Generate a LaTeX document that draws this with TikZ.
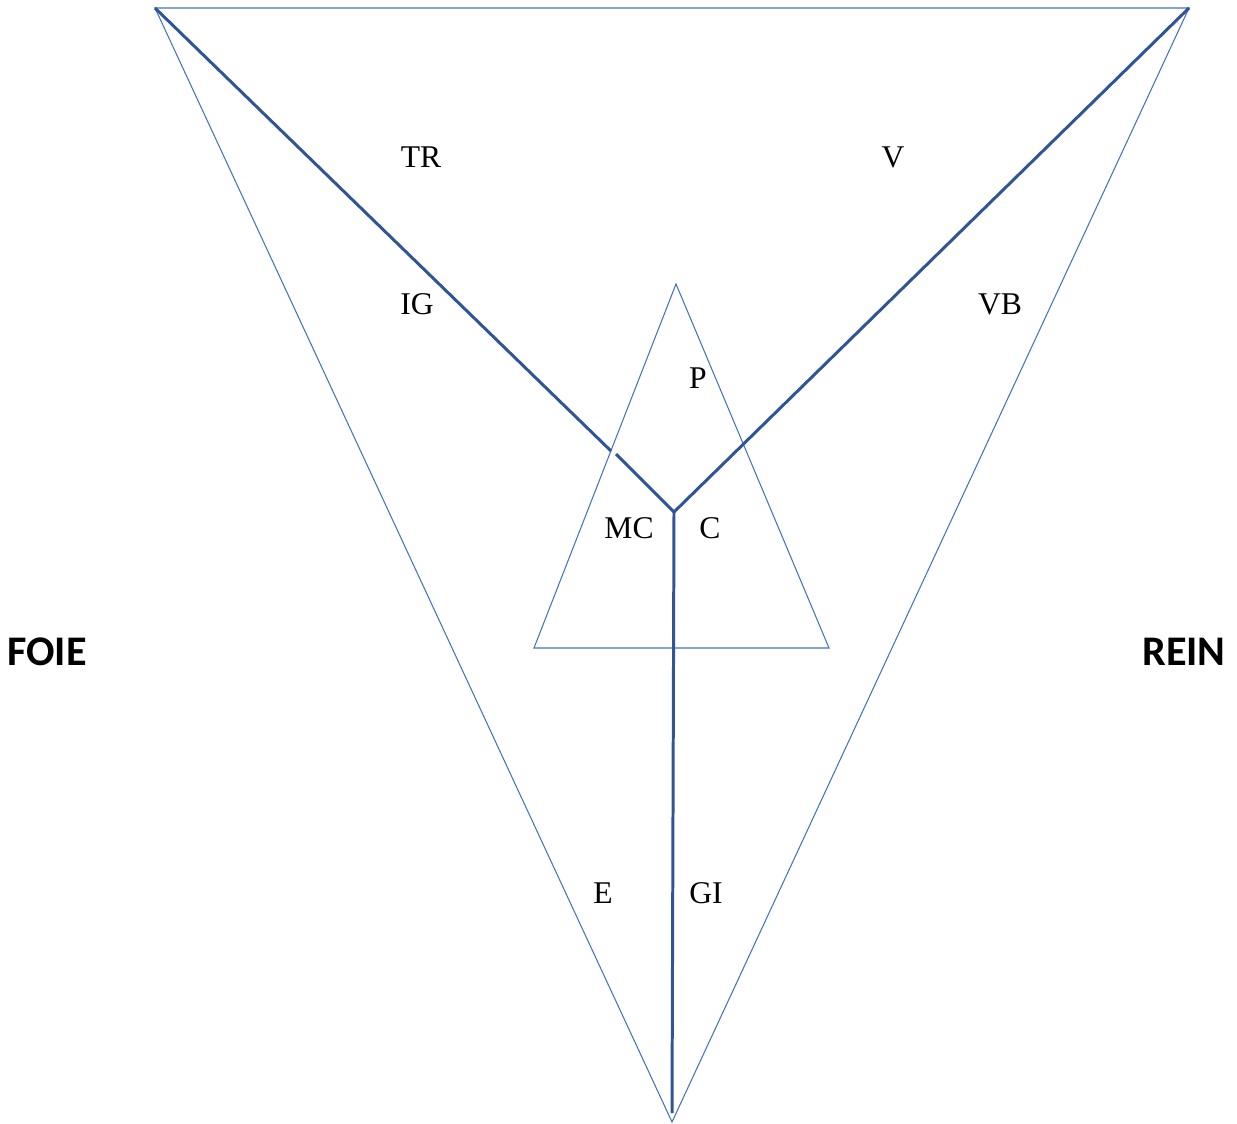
\documentclass[tikz,border=0pt]{standalone}
\usepackage{fontspec}
\setmainfont{Liberation Serif}
\newfontfamily\labelsans{Carlito}
\definecolor{thinblue}{HTML}{4472C4}
\definecolor{thickblue}{HTML}{2F5597}
\begin{document}
\begin{tikzpicture}[
  x=0.02cm, y=-0.02cm,
  thinline/.style={draw=thinblue, line width=0.6pt},
  axisline/.style={draw=thickblue, line width=1.7pt},
  zone/.style={font=\fontsize{18}{20}\selectfont, inner sep=0pt},
  organ/.style={font=\labelsans\bfseries\fontsize{24}{26}\selectfont, inner sep=0pt}
]
  \useasboundingbox (0,0) rectangle (1237,1124);

  % Sommets du grand triangle
  \coordinate (tl) at (155, 8);
  \coordinate (tr) at (1189, 8);
  \coordinate (bt) at (672, 1122);

  % Sommets du petit triangle
  \coordinate (pt) at (676, 284);
  \coordinate (pl) at (534, 648);
  \coordinate (pr) at (829, 648);

  % Centre et extremites des axes
  \coordinate (ctr) at (674, 512);
  \coordinate (gapA) at (611, 451);
  \coordinate (gapB) at (616, 454);
  \coordinate (bend) at (672, 1113);

  % Triangles
  \draw[thinline] (tl) -- (tr) -- (bt) -- cycle;
  \draw[thinline] (pt) -- (pr) -- (pl) -- cycle;

  % Axes epais
  \draw[axisline] (tl) -- (gapA);
  \draw[axisline] (gapB) -- (ctr);
  \draw[axisline] (tr) -- (ctr);
  \draw[axisline] (ctr) -- (bend);

  % Zones
  \node[zone] (lTR) at (421, 157) {TR};
  \node[zone] (lV) at (893, 157) {V};
  \node[zone] (lIG) at (417, 304) {IG};
  \node[zone] (lVB) at (1000, 304) {VB};
  \node[zone] (lP) at (698, 378) {P};
  \node[zone] (lMC) at (629, 528) {MC};
  \node[zone] (lC) at (710, 528) {C};
  \node[zone] (lE) at (603, 893) {E};
  \node[zone] (lGI) at (706, 893) {GI};

  % Organes
  \node[organ] (foie) at (47, 652) {FOIE};
  \node[organ] (rein) at (1184, 652) {REIN};

\end{tikzpicture}
\end{document}
